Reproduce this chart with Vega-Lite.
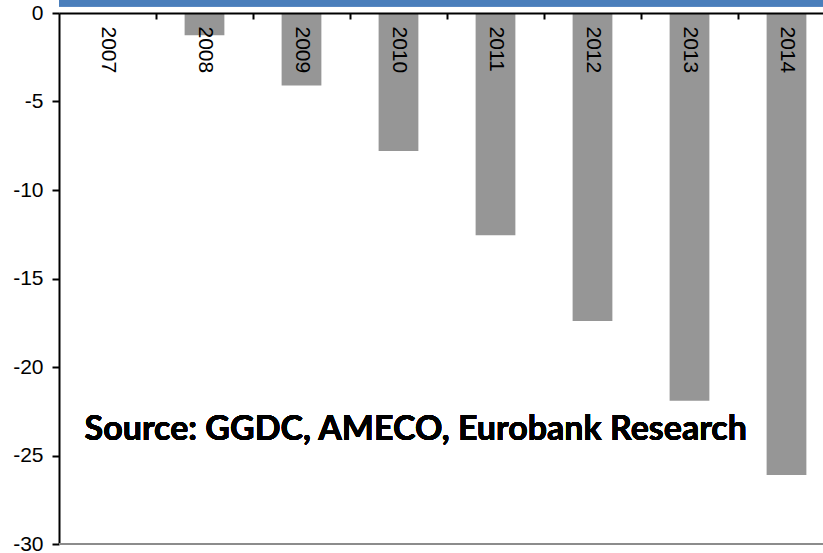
{
  "$schema": "https://vega.github.io/schema/vega-lite/v6.json",
  "width": 764,
  "height": 531,
  "autosize": "none",
  "padding": {"left": 59, "top": 13, "right": 0, "bottom": 9},
  "background": "white",
  "config": {"view": {"stroke": null}},
  "data": {
    "values": [
      {"year": "2007", "value": 0},
      {"year": "2008", "value": -1.25},
      {"year": "2009", "value": -4.1},
      {"year": "2010", "value": -7.8},
      {"year": "2011", "value": -12.55},
      {"year": "2012", "value": -17.4},
      {"year": "2013", "value": -21.9},
      {"year": "2014", "value": -26.1}
    ]
  },
  "layer": [
    {
      "mark": {"type": "rect", "color": "#4A7EBB"},
      "encoding": {"y": {"datum": 0.73}, "y2": {"datum": 0.38}}
    },
    {
      "mark": {"type": "bar", "color": "#969696"},
      "encoding": {
        "x": {
          "field": "year",
          "type": "nominal",
          "sort": null,
          "scale": {"range": [0, 776], "paddingInner": 0.59, "paddingOuter": 0.295},
          "axis": {
            "orient": "top",
            "title": null,
            "zindex": 1,
            "labelAngle": 90,
            "labelAlign": "left",
            "labelBaseline": "middle",
            "labelPadding": -7,
            "labelFont": "Liberation Sans",
            "labelFontSize": 21,
            "labelColor": "black",
            "labelOverlap": false,
            "labelBound": false,
            "tickOffset": 48.5,
            "labelOffset": -48.5,
            "tickSize": -6,
            "tickWidth": 2,
            "tickColor": "black",
            "domainColor": "black",
            "domainWidth": 2,
            "grid": false
          }
        },
        "y": {
          "field": "value",
          "type": "quantitative",
          "scale": {"domain": [-30, 0], "nice": false},
          "axis": {
            "title": null,
            "values": [-30, -25, -20, -15, -10, -5, 0],
            "labelExpr": "replace(datum.label, '−', '-')",
            "labelFont": "Liberation Sans",
            "labelFontSize": 21,
            "labelColor": "black",
            "labelPadding": 9,
            "tickSize": 7,
            "tickWidth": 2,
            "tickColor": "black",
            "domainColor": "black",
            "domainWidth": 2,
            "grid": false
          }
        }
      }
    },
    {
      "mark": {"type": "rule", "color": "#8C8C8C", "strokeWidth": 2},
      "encoding": {"y": {"datum": -30}}
    },
    {
      "mark": {
        "type": "text",
        "text": "Source: GGDC, AMECO, Eurobank Research",
        "font": "Lato",
        "fontWeight": "bold",
        "fontSize": 34,
        "align": "left",
        "baseline": "alphabetic",
        "color": "black",
        "dx": -3
      },
      "encoding": {
        "x": {"datum": "2007", "bandPosition": 0},
        "y": {"datum": -24.1}
      }
    }
  ]
}
